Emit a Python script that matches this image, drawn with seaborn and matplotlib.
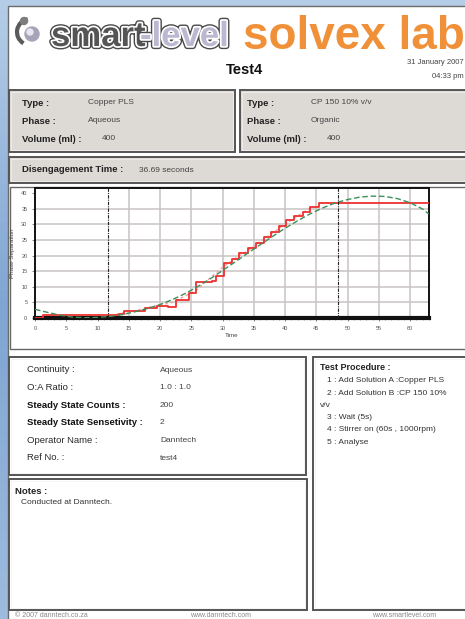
import matplotlib
matplotlib.use("Agg")
import matplotlib.pyplot as plt
import matplotlib.patheffects as pe
from matplotlib.patches import Rectangle, Circle, Arc
import numpy as np
import seaborn as sns

sns.set_style("white")
plt.rcParams['font.family'] = ['Liberation Sans', 'DejaVu Sans']

########################################
# data

red_time = [0, 1.3, 13.4, 14.2, 17.6, 19.5, 21.3, 22.5, 24.6, 25.8, 28.3, 29.0,
            30.3, 31.5, 32.7, 34.0, 35.3, 36.6, 37.8, 39.0, 40.2, 41.5, 42.8,
            44.0, 45.4, 63.0]
red_sep = [0.0, 1.0, 1.3, 2.2, 3.3, 4.0, 3.6, 5.8, 8.0, 11.5, 12.0, 13.5,
           17.5, 19.0, 20.8, 22.5, 24.0, 26.0, 27.5, 29.5, 31.5, 32.5, 34.0,
           35.5, 36.9, 36.9]

raw_time = [13, 16, 18, 20, 22, 24, 26, 28, 30, 32, 34, 36, 38, 40, 42, 44]
raw_sep = [1.2, 2.3, 3.4, 4.1, 5.0, 7.0, 9.2, 12.8, 16.2, 19.0, 21.5, 24.4,
           27.2, 30.0, 32.6, 35.2]

fit_time = [0, 2, 4, 6, 8, 10, 12, 14, 16, 18, 20, 22, 24, 26, 28, 30, 32, 34,
            36, 38, 40, 42, 44, 46, 48, 50, 52, 54, 56, 58, 60, 62, 63]
fit_sep = [2.8, 1.8, 0.9, 0.3, 0.1, 0.2, 0.5, 1.1, 2.0, 3.0, 4.3, 5.9, 7.8,
           10.0, 12.5, 15.2, 17.9, 20.7, 23.4, 26.1, 28.7, 31.1, 33.3, 35.2,
           36.8, 37.9, 38.7, 39.0, 38.9, 38.2, 36.9, 34.9, 33.3]

marker_times = [11.7, 48.4]

x_ticks = [0, 5, 10, 15, 20, 25, 30, 35, 40, 45, 50, 55, 60]
y_ticks = [0, 5, 10, 15, 20, 25, 30, 35, 40]

sample_a = [("Type :", "Copper PLS"), ("Phase :", "Aqueous"), ("Volume (ml) :", "400")]
sample_b = [("Type :", "CP 150 10% v/v"), ("Phase :", "Organic"), ("Volume (ml) :", "400")]
settings = [("Continuity :", "Aqueous"), ("O:A Ratio :", "1.0 : 1.0"),
            ("Steady State Counts :", "200"), ("Steady State Sensetivity :", "2"),
            ("Operator Name :", "Danntech"), ("Ref No. :", "test4")]
procedure = ["1 : Add Solution A :Copper PLS", "2 : Add Solution B :CP 150 10%",
             "v/v", "3 : Wait (5s)", "4 : Stirrer on (60s , 1000rpm)", "5 : Analyse"]
footer = [(15, "© 2007 danntech.co.za"), (190, "www.danntech.com"), (372, "www.smartlevel.com")]

########################################

W, H = 465, 619
fig = plt.figure(figsize=(W / 100, H / 100), dpi=100)

# page in pixel coordinates
bg = fig.add_axes([0, 0, 1, 1])
bg.set_xlim(0, W)
bg.set_ylim(H, 0)
bg.axis('off')

grad = np.linspace(0, 1, 64).reshape(-1, 1)
bg.imshow(grad, cmap=sns.blend_palette(["#B4CCE6", "#7FA5D2", "#9DBBDE"], as_cmap=True),
          extent=[0, W, H, 0], aspect='auto', zorder=0)
bg.add_patch(Rectangle((8, 6), W, H, facecolor='white', edgecolor='#6b6b6b', lw=1, zorder=1))


def box(x0, y0, x1, y1, fc='white'):
    bg.add_patch(Rectangle((x0, y0), x1 - x0, y1 - y0, facecolor=fc,
                           edgecolor='#555555', lw=1.4, zorder=2))
    bg.add_patch(Rectangle((x0 + 2, y0 + 2), x1 - x0 - 4, y1 - y0 - 4, facecolor='none',
                           edgecolor='#f4f2f0', lw=0.5, zorder=2))


# logo
bg.add_patch(Arc((30, 32), 26, 26, theta1=120, theta2=260, color='#5a5a5a', lw=3, zorder=3))
bg.add_patch(Circle((32, 34), 7, color='#a7a3b8', zorder=3))
bg.add_patch(Circle((30, 32), 3, color='#e8e6ef', zorder=3))
bg.add_patch(Circle((24, 21), 3.5, color='#7d7d7d', zorder=3))
logo_fx = [pe.Stroke(linewidth=4.5, foreground='#4a4a4a'),
           pe.Stroke(linewidth=2.5, foreground='white'), pe.Normal()]
bg.text(51, 46, "smart", fontsize=25, fontweight='bold', color='#555555',
        va='baseline', path_effects=logo_fx, zorder=4)
bg.text(140, 46, "-level", fontsize=25, fontweight='bold', color='#bdb8d2',
        va='baseline', path_effects=logo_fx, zorder=4)
bg.text(243, 49, "solvex lab", fontsize=33, fontweight='bold', color='#F0913A',
        va='baseline', zorder=4)

bg.text(244, 70, "Test4", fontsize=10.5, fontweight='bold', color='#111111',
        ha='center', va='center', zorder=4)
bg.text(464, 63, "31 January 2007", fontsize=5.5, color='#444444', ha='right', va='center', zorder=4)
bg.text(464, 76, "04:33 pm", fontsize=5.5, color='#444444', ha='right', va='center', zorder=4)

# sample boxes
box(9, 90, 235, 152, fc='#DDD9D5')
box(240, 90, 470, 152, fc='#DDD9D5')
for i, (lab, val) in enumerate(sample_a):
    y = 103 + i * 18
    bg.text(22, y, lab, fontsize=6.8, fontweight='bold', color='#222222', va='center', zorder=4)
    vx = 88 if i < 2 else 102
    bg.text(vx, y, val, fontsize=6, color='#444444', va='center', zorder=4)
for i, (lab, val) in enumerate(sample_b):
    y = 103 + i * 18
    bg.text(247, y, lab, fontsize=6.8, fontweight='bold', color='#222222', va='center', zorder=4)
    vx = 311 if i < 2 else 327
    bg.text(vx, y, val, fontsize=6, color='#444444', va='center', zorder=4)

box(9, 157, 470, 183, fc='#DDD9D5')
bg.text(22, 170, "Disengagement Time :", fontsize=6.8, fontweight='bold', color='#222222',
        va='center', zorder=4)
bg.text(139, 170, "36.69 seconds", fontsize=6, color='#444444', va='center', zorder=4)

# chart frame
bg.add_patch(Rectangle((10, 187), 460, 162, facecolor='white', edgecolor='#666666', lw=1, zorder=2))

# settings box
box(9, 357, 306, 475)
for i, (lab, val) in enumerate(settings):
    y = 370 + i * 17.6
    bold = lab.startswith("Steady")
    bg.text(27, y, lab, fontsize=6.8, fontweight='bold' if bold else 'normal',
            color='#111111' if bold else '#2a2a2a', va='center', zorder=4)
    bg.text(160, y, val, fontsize=6, color='#444444', va='center', zorder=4)

# procedure box
box(313, 357, 470, 610)
bg.text(320, 368, "Test Procedure :", fontsize=6.5, fontweight='bold', color='#222222',
        va='center', zorder=4)
for i, line in enumerate(procedure):
    x = 320 if line == "v/v" else 327
    bg.text(x, 381 + i * 12.2, line, fontsize=6, color='#333333', va='center', zorder=4)

# notes box
box(9, 479, 307, 610)
bg.text(15, 492, "Notes :", fontsize=6.8, fontweight='bold', color='#222222', va='center', zorder=4)
bg.text(21, 503, "Conducted at Danntech.", fontsize=6, color='#333333', va='center', zorder=4)

# footer
for x, s in footer:
    bg.text(x, 617, s, fontsize=5, color='#888888', va='baseline', zorder=4)

########################################
# chart

ax = fig.add_axes([35 / W, 1 - 318 / H, (429 - 35) / W, (318 - 188) / H])
ax.set_facecolor('white')

for y in y_ticks[1:-1]:
    ax.axhline(y, color='#c9c3c3', lw=1.1, zorder=0)
for x in x_ticks[3:]:
    ax.axvline(x, color='#c9c3c3', lw=1.1, zorder=0)

sns.lineplot(x=raw_time, y=raw_sep, ax=ax, color='#f6a0a0', lw=1, linestyle=(0, (2, 2)),
             estimator=None, sort=False, zorder=2)
sns.lineplot(x=red_time, y=red_sep, ax=ax, color='#ee3030', lw=1.3, drawstyle='steps-post',
             estimator=None, sort=False, zorder=3)
sns.lineplot(x=fit_time, y=fit_sep, ax=ax, color='#3f8f5a', lw=1, linestyle=(0, (4, 2)),
             estimator=None, sort=False, zorder=4)
for t in marker_times:
    ax.axvline(t, color='#222222', lw=0.8, linestyle=(0, (3, 1, 1, 1)), zorder=5)

ax.set_xlim(0, 63.04)
ax.set_ylim(0, 41.6)
ax.set_xticks(x_ticks)
ax.set_yticks(y_ticks)
ax.set_xticks(np.arange(0, 64, 1.0), minor=True)
ax.tick_params(axis='both', which='major', labelsize=4, colors='#555555', length=2, width=0.5)
ax.tick_params(axis='x', which='minor', length=1.2, width=0.4, colors='#777777')
ax.tick_params(axis='x', which='both', bottom=True)
ax.tick_params(axis='y', left=True)
ax.set_xlabel("Time", fontsize=4.5, color='#444444', labelpad=2)
ax.set_ylabel("Phase Separation", fontsize=4.5, color='#444444', labelpad=4)
for side in ['top', 'left', 'right']:
    ax.spines[side].set_linewidth(1.4)
    ax.spines[side].set_color('#111111')
ax.spines['bottom'].set_linewidth(3)
ax.spines['bottom'].set_color('#111111')

plt.savefig("out.png", dpi=100)
